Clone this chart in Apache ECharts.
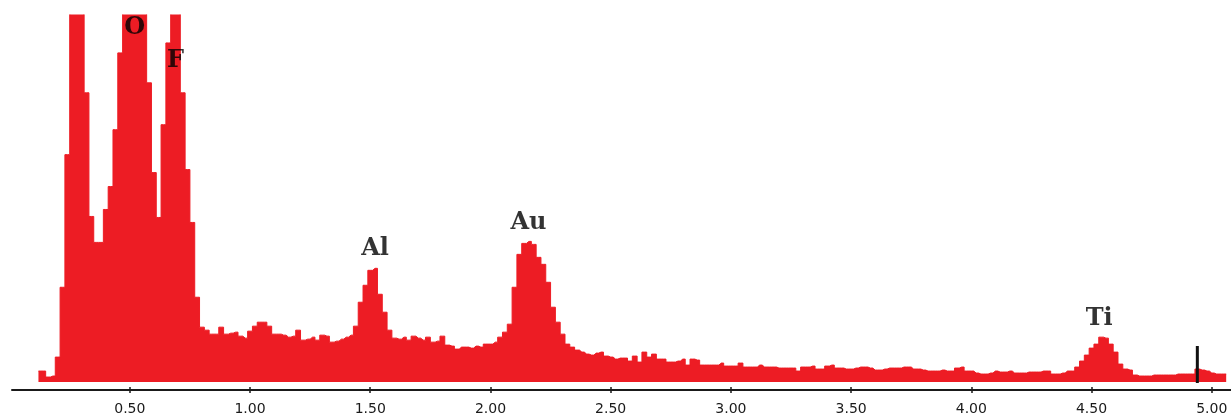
<!DOCTYPE html>
<html>
<head>
<meta charset="utf-8">
<script src="https://cdn.jsdelivr.net/npm/echarts@6/dist/echarts.min.js"></script>
<style>
  html, body { margin: 0; padding: 0; background: #ffffff; }
  #chart { width: 1231px; height: 416px; }
</style>
</head>
<body>
<div id="chart"></div>
<script>
// EDS spectrum: channel energies (keV) start + width, counts per channel
const startEnergy = 0.12;
const channelWidth = 0.02;
const counts = [
  11, 11, 5, 6, 25, 95, 228, 450, 700, 550,
  290, 166, 140, 140, 173, 196, 253, 330, 480, 600,
  650, 620, 480, 300, 210, 165, 258, 340, 450, 400,
  290, 213, 160, 85, 55, 52, 48, 48, 55, 48,
  49, 50, 46, 44, 51, 56, 60, 60, 56, 48,
  48, 47, 45, 46, 52, 42, 43, 45, 42, 47,
  46, 40, 41, 43, 45, 47, 56, 80, 97, 112,
  114, 88, 70, 52, 44, 43, 45, 42, 46, 44,
  42, 45, 40, 41, 46, 37, 36, 33, 35, 35,
  34, 36, 35, 38, 38, 40, 45, 50, 58, 95,
  128, 139, 141, 138, 125, 118, 100, 75, 60, 48,
  38, 35, 32, 30, 28, 27, 29, 30, 26, 25,
  23, 24, 24, 21, 26, 20, 30, 25, 28, 23,
  23, 20, 20, 21, 23, 17, 23, 22, 17, 17,
  17, 17, 19, 16, 16, 16, 19, 15, 15, 15,
  17, 15, 15, 15, 14, 14, 14, 14, 11, 15,
  15, 16, 13, 13, 16, 17, 14, 14, 13, 13,
  14, 15, 15, 14, 12, 12, 13, 14, 14, 14,
  15, 15, 13, 13, 12, 11, 11, 11, 12, 11,
  11, 14, 15, 11, 11, 9, 8, 8, 9, 11,
  10, 10, 11, 9, 9, 9, 10, 10, 10, 11,
  11, 8, 8, 9, 11, 11, 15, 21, 27, 34,
  38, 45, 44, 38, 30, 18, 13, 12, 7, 6,
  6, 6, 7, 7, 7, 7, 7, 8, 8, 8,
  8, 13, 12, 11, 9, 8, 8, 8
];

// Element peak labels (name, energy keV, label anchor in counts)
const peakNames = ['O', 'F', 'Al', 'Au', 'Ti'];
const peakEnergy = [0.52, 0.69, 1.52, 2.158, 4.532];
const peakLabelCounts = [355, 322, 134, 160, 63];

// Cursor marker
const cursorEnergy = 4.94;
const cursorCounts = [-1, 36];

// Axis ticks
const tickValues = [0.5, 1.0, 1.5, 2.0, 2.5, 3.0, 3.5, 4.0, 4.5, 5.0];

const spectrum = counts.map((c, i) => [+(startEnergy + i * channelWidth).toFixed(2), c]);
const labels = peakNames.map((n, i) => ({ name: n, value: [peakEnergy[i], peakLabelCounts[i]] }));
const cursor = cursorCounts.map(c => [cursorEnergy, c]);

const chart = echarts.init(document.getElementById('chart'), null, { renderer: 'canvas' });
const xCommon = {
  type: 'value', min: 0.01, max: 5.08, position: 'bottom',
  splitLine: { show: false }
};
chart.setOption({
  animation: false,
  backgroundColor: '#ffffff',
  grid: { left: 12, right: 0, top: 15, bottom: 25, containLabel: false },
  xAxis: [
    Object.assign({}, xCommon, {
      axisLine: { show: true, onZero: false, lineStyle: { color: '#1a1a1a', width: 2 } },
      axisTick: { show: true, length: 3, customValues: tickValues, lineStyle: { color: '#1a1a1a', width: 1.5 } },
      axisLabel: {
        show: true, customValues: tickValues, margin: 12,
        formatter: v => v.toFixed(2),
        fontFamily: 'DejaVu Sans', fontSize: 14, color: '#1a1a1a'
      }
    }),
    Object.assign({}, xCommon, {
      axisLine: { show: false, onZero: false },
      axisTick: { show: true, inside: true, length: 3, customValues: tickValues, lineStyle: { color: '#1a1a1a', width: 1.5 } },
      axisLabel: { show: false }
    })
  ],
  yAxis: { type: 'value', min: -8, max: 368, show: false, splitLine: { show: false } },
  series: [
    {
      type: 'line', data: spectrum, step: 'middle', symbol: 'none', clip: true,
      lineStyle: { color: '#ED1C24', width: 1 },
      areaStyle: { color: '#ED1C24', opacity: 1, origin: 0 },
      z: 2
    },
    {
      type: 'line', data: cursor, symbol: 'none',
      lineStyle: { color: '#111111', width: 3 }, z: 3
    },
    {
      type: 'scatter', data: labels, symbolSize: 0, z: 4,
      label: {
        show: true, position: 'inside', formatter: p => p.name,
        fontFamily: 'DejaVu Serif', fontWeight: 'bold', fontSize: 24, color: '#000'
      }
    }
  ]
});
</script>
</body>
</html>
